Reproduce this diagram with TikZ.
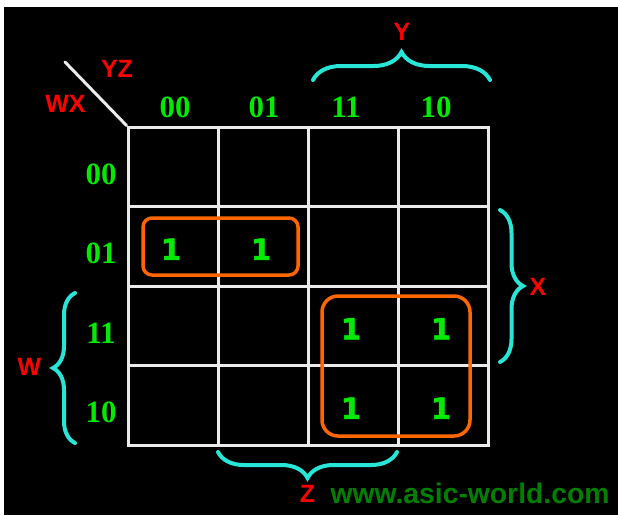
\documentclass[tikz,border=0pt]{standalone}
\usepackage{fontspec}
\setmainfont{Liberation Serif}
\newfontfamily\labelfont{Liberation Sans}
\newfontfamily\onefont[FakeBold=1.5]{DejaVu Sans Bold}
\usetikzlibrary{decorations.pathreplacing,positioning}
\definecolor{kgreen}{RGB}{0,235,0}
\definecolor{kred}{RGB}{255,0,0}
\definecolor{kcyan}{RGB}{40,230,215}
\definecolor{korange}{RGB}{255,102,0}
\definecolor{kwhite}{RGB}{235,235,235}
\definecolor{kmark}{RGB}{0,128,0}

\begin{document}
\begin{tikzpicture}[
    x=1pt,
    y=-1pt,
    line cap=round,
    cell/.style={
        draw=kwhite,
        line width=3pt,
        minimum width=90pt,
        minimum height=79.5pt,
        inner sep=0pt,
    },
    hdr/.style={
        text=kgreen,
        font=\fontsize{31}{36}\selectfont\bfseries,
        inner sep=0pt,
    },
    one/.style={
        text=kgreen,
        font=\onefont\fontsize{29}{34}\selectfont,
        inner sep=0pt,
        xshift=-2pt,
        yshift=-3pt,
    },
    var/.style={
        text=kred,
        font=\labelfont\fontsize{25}{30}\selectfont\bfseries,
        inner sep=0pt,
    },
    brace/.style={
        draw=kcyan,
        line width=4pt,
        decorate,
        decoration={brace, amplitude=#1},
    },
    group/.style={
        draw=korange,
        line width=3.5pt,
        rounded corners=#1,
    },
]
    % page and black panel
    \useasboundingbox (0,0) rectangle (618,515);
    \fill[white] (0,0) rectangle (618,515);
    \fill[black] (4,7) rectangle (618,515);

    % map cells, named by row and column
    \foreach \rw [count=\i from 0] in {00,01,11,10}
        \foreach \cl [count=\j from 0] in {00,01,11,10}
            \node[cell] (c\rw\cl) at (173+90*\j, 166.75+79.5*\i) {};

    % corner line
    \coordinate (corner) at (65,62);
    \draw[draw=kwhite, line width=3pt] (corner) -- (c0000.north west);
    \node[var] (yz) at (117,68.5) {YZ};
    \node[var] (wx) at (65.5,104) {WX};

    % column and row headers
    \node[hdr] (col00) at (175,107.5) {00};
    \node[hdr] (col01) at (264,107.5) {01};
    \node[hdr] (col11) at (346,107.5) {11};
    \node[hdr] (col10) at (436,107.5) {10};
    \node[hdr] (row00) at (101,174) {00};
    \node[hdr] (row01) at (101,253) {01};
    \node[hdr] (row11) at (101,333) {11};
    \node[hdr] (row10) at (101,412) {10};

    % ones
    \node[one] (one1) at (c0100) {1};
    \node[one] (one2) at (c0101) {1};
    \node[one] (one3) at (c1111) {1};
    \node[one] (one4) at (c1110) {1};
    \node[one] (one5) at (c1011) {1};
    \node[one] (one6) at (c1010) {1};

    % groups
    \draw[group=9pt]  (143,218) rectangle (298,275);
    \draw[group=16pt] (322,296) rectangle (470,436);

    % braces
    \draw[brace=28pt] (313,80) -- (490,80);
    \draw[brace=23pt] (500,210) -- (500,362);
    \draw[brace=22pt] (75,443) -- (75,293);
    \draw[brace=26pt] (397,452) -- (218,452);
    \node[var] (ylab) at (402,32) {Y};
    \node[var] (xlab) at (538,287) {X};
    \node[var] (wlab) at (29.5,367) {W};
    \node[var] (zlab) at (307.5,494) {Z};

    \node[text=kmark, font=\labelfont\fontsize{28.3}{33}\selectfont\bfseries, inner sep=0pt] (site) at (470,493) {www.asic-world.com};
\end{tikzpicture}
\end{document}
